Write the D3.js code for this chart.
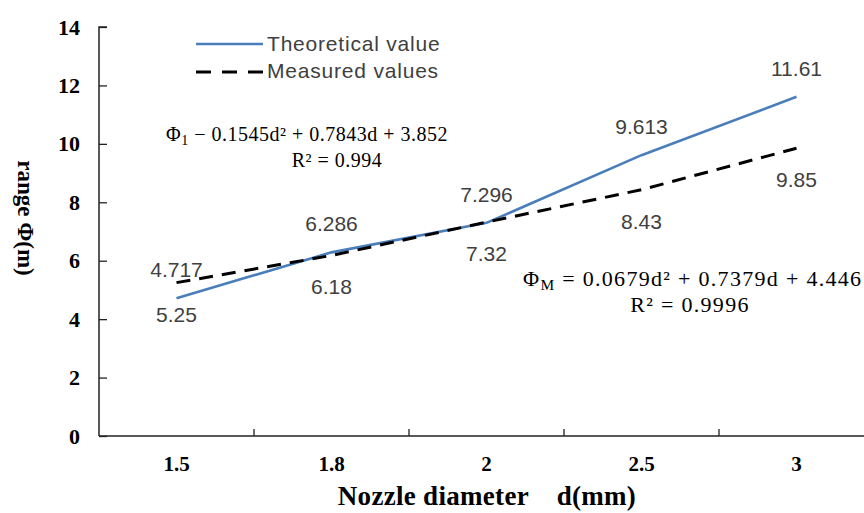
<!DOCTYPE html>
<html>
<head>
<meta charset="utf-8">
<script src="https://cdn.jsdelivr.net/npm/d3@7"></script>
<style>
  body { margin: 0; background: #fff; }
  svg { display: block; }
</style>
</head>
<body>
<svg width="864" height="513"></svg>
<script>
// ### data ###
var diameters = ['1.5', '1.8', '2', '2.5', '3'];
var theoretical = [4.717, 6.286, 7.296, 9.613, 11.61];
var measured = [5.25, 6.18, 7.32, 8.43, 9.85];
var yTicks = [0, 2, 4, 6, 8, 10, 12, 14];
var seriesNames = ['Theoretical value', 'Measured values'];

var svg = d3.select('svg');
var serif = '"Liberation Serif", "Times New Roman", serif';
var sans = '"Liberation Sans", Arial, sans-serif';

// ### scales ###
var xScale = d3.scaleBand()
  .domain(diameters)
  .range([99, 874]);
var yScale = d3.scaleLinear()
  .domain([0, 14])
  .range([436, 27]);
var cx = d => xScale(d) + xScale.bandwidth() / 2;

// ### axes ###
var yAxis = d3.axisLeft(yScale).tickValues(yTicks).tickSize(-8).tickPadding(19);
var gy = svg.append('g').attr('transform', 'translate(99,0)').call(yAxis);
gy.select('.domain').attr('stroke', '#222').attr('stroke-width', 1.5).attr('d', 'M0,436V27h8');
gy.selectAll('.tick line').attr('stroke', '#222').attr('stroke-width', 1.3);
gy.selectAll('.tick text')
  .attr('font-family', serif).attr('font-weight', 'bold').attr('font-size', 22).attr('fill', '#000');

var xAxis = d3.axisBottom(xScale).tickSize(0).tickPadding(20);
var gx = svg.append('g').attr('transform', 'translate(0,436)').call(xAxis);
gx.select('.domain').attr('stroke', '#222').attr('stroke-width', 1.5).attr('d', 'M99,0H864');
gx.selectAll('.tick text')
  .attr('font-family', serif).attr('font-weight', 'bold').attr('font-size', 21).attr('fill', '#000');
// category boundary ticks
gx.selectAll('.bound')
  .data(diameters.slice(1))
  .enter().append('line')
  .attr('x1', d => xScale(d)).attr('x2', d => xScale(d))
  .attr('y1', 0).attr('y2', -7)
  .attr('stroke', '#222').attr('stroke-width', 1.3);

// axis titles
svg.append('text')
  .attr('x', 487).attr('y', 505)
  .attr('text-anchor', 'middle')
  .attr('font-family', serif).attr('font-weight', 'bold').attr('font-size', 27)
  .attr('letter-spacing', 0.3)
  .attr('xml:space', 'preserve')
  .text('Nozzle diameter    d(mm)');
svg.append('text')
  .attr('transform', 'translate(18,218) rotate(90)')
  .attr('text-anchor', 'middle')
  .attr('font-family', serif).attr('font-weight', 'bold').attr('font-size', 23)
  .text('range Φ(m)');

// ### lines ###
var line = d3.line().x((d, i) => cx(diameters[i])).y(d => yScale(d));
svg.append('path').datum(theoretical)
  .attr('d', line).attr('fill', 'none')
  .attr('stroke', '#4a7ebb').attr('stroke-width', 2.6);
svg.append('path').datum(measured)
  .attr('d', line).attr('fill', 'none')
  .attr('stroke', '#000').attr('stroke-width', 3)
  .attr('stroke-dasharray', '14,9');

// ### data labels ###
svg.selectAll('.lblT')
  .data(theoretical).enter().append('text')
  .attr('x', (d, i) => cx(diameters[i]))
  .attr('y', d => yScale(d) - 21)
  .attr('text-anchor', 'middle')
  .attr('font-family', sans).attr('font-size', 21).attr('fill', '#404040')
  .text(d => d);
svg.selectAll('.lblM')
  .data(measured).enter().append('text')
  .attr('x', (d, i) => cx(diameters[i]))
  .attr('y', d => yScale(d) + 39)
  .attr('text-anchor', 'middle')
  .attr('font-family', sans).attr('font-size', 21).attr('fill', '#404040')
  .text(d => d);

// ### legend ###
var legend = svg.append('g').attr('transform', 'translate(196,44)');
legend.append('line').attr('x1', 0).attr('x2', 67).attr('y1', 0).attr('y2', 0)
  .attr('stroke', '#4a7ebb').attr('stroke-width', 2.6);
legend.append('line').attr('x1', 0).attr('x2', 67).attr('y1', 28).attr('y2', 28)
  .attr('stroke', '#000').attr('stroke-width', 3).attr('stroke-dasharray', '15,11');
legend.selectAll('text')
  .data(seriesNames).enter().append('text')
  .attr('x', 71).attr('y', (d, i) => i * 27 + 7)
  .attr('font-family', sans).attr('font-size', 21).attr('fill', '#404040')
  .attr('letter-spacing', 0.8)
  .text(d => d);

// ### trend equations ###
function equation(x, y, size, spacing, sub, rest, rx, r2) {
  var t = svg.append('text').attr('x', x).attr('y', y)
    .attr('font-family', serif).attr('font-size', size).attr('fill', '#000')
    .attr('letter-spacing', spacing)
    .attr('xml:space', 'preserve');
  t.append('tspan').text('Φ');
  t.append('tspan').attr('font-size', size * 0.7).attr('dy', 4).text(sub);
  t.append('tspan').attr('dy', -4).text(rest);
  svg.append('text').attr('x', rx).attr('y', y + 26)
    .attr('text-anchor', 'middle')
    .attr('font-family', serif).attr('font-size', size).attr('fill', '#000')
    .attr('letter-spacing', spacing)
    .attr('xml:space', 'preserve')
    .text(r2);
}
equation(166, 141, 20, 0.5, '1', ' − 0.1545d² + 0.7843d + 3.852', 337, 'R² = 0.994');
equation(523, 286, 22, 1.3, 'M', ' = 0.0679d² + 0.7379d + 4.446', 690, 'R² = 0.9996');
</script>
</body>
</html>
